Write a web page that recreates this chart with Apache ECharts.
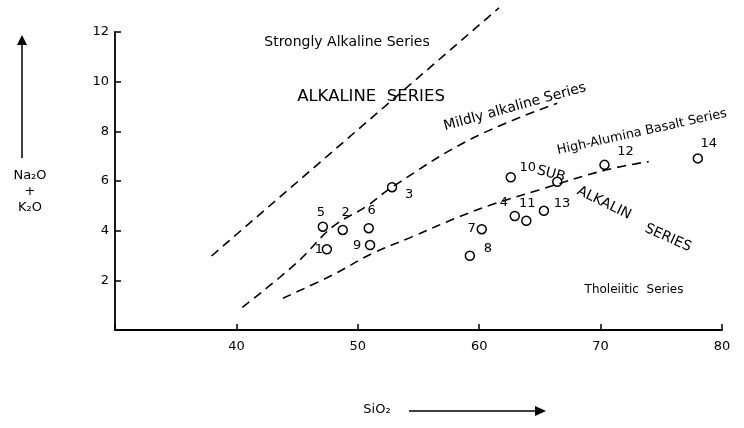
<!DOCTYPE html>
<html>
<head>
<meta charset="utf-8">
<script src="https://cdn.jsdelivr.net/npm/echarts@6/dist/echarts.min.js"></script>
<style>
html,body{margin:0;padding:0;background:#fff;}
#chart{width:744px;height:428px;}
</style>
</head>
<body>
<div id="chart"></div>
<script>
// Sample points: SiO2 (x) and Na2O+K2O (y)
var pointLabels = ["1","2","3","4","5","6","7","8","9","10","11","12","13","14",""];
var sio2  = [47.45, 48.76, 52.82, 62.93, 47.12, 50.90, 60.21, 59.23, 51.01, 62.60, 63.88, 70.32, 65.33, 78.01, 66.43];
var alkali= [3.25, 4.03, 5.75, 4.59, 4.16, 4.10, 4.06, 2.99, 3.42, 6.15, 4.40, 6.65, 4.80, 6.91, 5.97];

// Boundary curves
var strongX = [37.95, 61.63];
var strongY = [2.98, 12.97];
var mildX = [40.49, 44.93, 47.94, 50.68, 52.87, 59.44, 66.43];
var mildY = [0.91, 2.69, 4.16, 4.97, 5.77, 7.72, 9.13];
var lowerX = [43.83, 47.94, 51.22, 54.51, 58.35, 61.36, 64.92, 70.40, 73.96];
var lowerY = [1.28, 2.22, 3.09, 3.76, 4.56, 5.10, 5.64, 6.44, 6.78];

// Tick labels
var xTicks = [40, 50, 60, 70, 80];
var yTicks = [2, 4, 6, 8, 10, 12];

// label offsets (style only)
var labelOffsets = [[-8,0],[3,-17],[17,7],[-11,-13],[-2,-14],[3,-18],[-10,-1],[18,-7],[-13,1],[17,-10],[1,-17],[21,-13],[18,-7],[11,-15],[0,0]];

function zip(a,b){ return a.map(function(v,i){ return [v,b[i]]; }); }

var FONT = '"DejaVu Sans", sans-serif';
var INK = '#000';

var pts = sio2.map(function(x,i){
  return { value:[x, alkali[i]], name: pointLabels[i],
    label:{ show: pointLabels[i] !== '', offset: labelOffsets[i] } };
});

var dash = { color: INK, width: 1.6, type: [9,6] };

function txt(x, y, s, size, rot){
  return { type:'text', x:x, y:y, rotation:(rot||0)*Math.PI/180,
    style:{ text:s, font:size+'px '+FONT, fill:INK, textAlign:'center', textVerticalAlign:'middle' } };
}

var chart = echarts.init(document.getElementById('chart'), null, {renderer:'canvas'});
chart.setOption({
  animation: false,
  backgroundColor: '#fff',
  grid: { left: 115, right: 22, top: 32, bottom: 98 },
  xAxis: {
    type: 'value', min: 30, max: 80, interval: 10,
    axisLine: { lineStyle: { color: INK, width: 1.8 } },
    axisTick: { inside: true, length: 6, lineStyle: { color: INK, width: 1.5 } },
    splitLine: { show: false },
    axisLabel: { color: INK, fontFamily: FONT, fontSize: 13, margin: 10,
      formatter: function(v){ return xTicks.indexOf(v) >= 0 ? String(v) : ''; } }
  },
  yAxis: {
    type: 'value', min: 0, max: 12, interval: 2,
    axisLine: { show: true, lineStyle: { color: INK, width: 1.8 } },
    axisTick: { show: true, inside: true, length: 6, lineStyle: { color: INK, width: 1.5 } },
    splitLine: { show: false },
    axisLabel: { color: INK, fontFamily: FONT, fontSize: 13, margin: 6,
      formatter: function(v){ return yTicks.indexOf(v) >= 0 ? String(v) : ''; } }
  },
  series: [
    { type: 'line', data: zip(strongX, strongY), showSymbol: false, clip: false, lineStyle: dash, silent: true },
    { type: 'line', data: zip(mildX, mildY), showSymbol: false, smooth: 0.4, lineStyle: dash, silent: true },
    { type: 'line', data: zip(lowerX, lowerY), showSymbol: false, smooth: 0.4, lineStyle: dash, silent: true },
    { type: 'scatter', data: pts, symbol: 'circle', symbolSize: 9,
      itemStyle: { color: '#fff', borderColor: INK, borderWidth: 1.5, opacity: 1 },
      label: { position: 'inside', formatter: '{b}', color: INK, fontFamily: FONT, fontSize: 13 } }
  ],
  graphic: [
    txt(347, 42, 'Strongly Alkaline Series', 14),
    txt(371, 97, 'ALKALINE  SERIES', 16.5),
    txt(515, 107, 'Mildly alkaline Series', 14, 15.5),
    txt(642, 132, 'High-Alumina Basalt Series', 12.8, 12.5),
    txt(551, 174, 'SUB', 14, -15),
    txt(604, 203, 'ALKALIN', 14, -26),
    txt(668, 238, 'SERIES', 14, -24),
    txt(634, 290, 'Tholeiitic  Series', 12),
    // y axis title
    { type:'line', shape:{ x1:22, y1:158, x2:22, y2:37 }, style:{ stroke:INK, lineWidth:1.5 } },
    { type:'polygon', shape:{ points:[[22,35],[17,45],[27,45]] }, style:{ fill:INK } },
    txt(30, 176, 'Na\u2082O', 13),
    txt(30, 192, '+', 13),
    txt(30, 208, 'K\u2082O', 13),
    // x axis title
    txt(377, 410, 'SiO\u2082', 13),
    { type:'line', shape:{ x1:409, y1:411, x2:540, y2:411 }, style:{ stroke:INK, lineWidth:1.5 } },
    { type:'polygon', shape:{ points:[[546,411],[535,406],[535,416]] }, style:{ fill:INK } }
  ]
});
</script>
</body>
</html>
